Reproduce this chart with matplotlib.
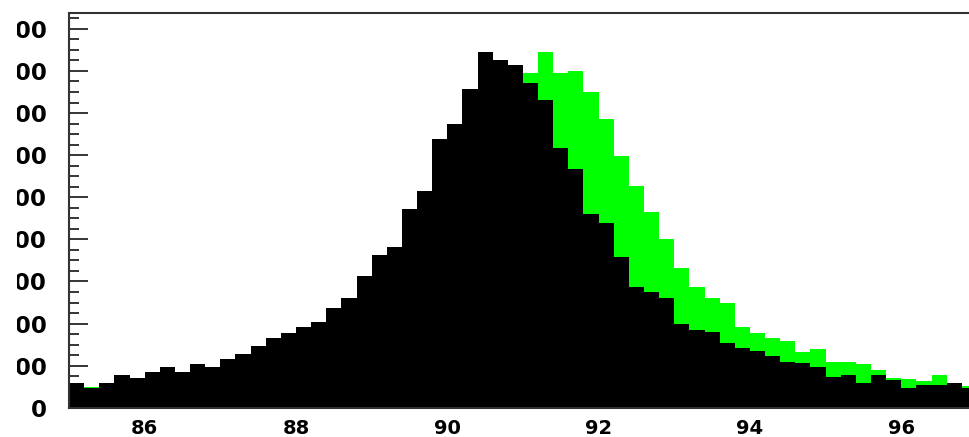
import matplotlib.pyplot as plt
from matplotlib.patches import Rectangle
from matplotlib.ticker import MultipleLocator

# bin left edges: 85.0 .. 96.8, width 0.2
bin_start = 85.0
bin_width = 0.2

black_counts = [119, 93, 119, 156, 143, 170, 192, 169, 208, 195,
                232, 257, 295, 332, 357, 384, 409, 474, 523, 626,
                726, 765, 943, 1030, 1276, 1347, 1513, 1689, 1652, 1629,
                1542, 1462, 1236, 1133, 919, 879, 715, 575, 549, 523,
                397, 371, 359, 309, 283, 270, 247, 219, 211, 195,
                145, 156, 119, 156, 132, 95, 108, 108, 119, 93]

green_counts = [119, 100, 119, 156, 143, 170, 192, 169, 208, 195,
                232, 257, 295, 332, 357, 384, 409, 474, 523, 626,
                726, 765, 943, 1030, 1276, 1347, 1513, 1689, 1652, 1629,
                1589, 1689, 1589, 1601, 1499, 1372, 1196, 1055, 929, 802,
                663, 572, 523, 496, 382, 357, 332, 319, 267, 279,
                216, 216, 207, 180, 143, 135, 129, 156, 119, 104]

xtick_vals = [86, 88, 90, 92, 94, 96]
ytick_vals = [0, 200, 400, 600, 800, 1000, 1200, 1400, 1600, 1800]

edges = [bin_start + i * bin_width for i in range(len(black_counts))]

fig = plt.figure(figsize=(9.69, 4.37), dpi=100)
ax = fig.add_axes([0.0712, 0.0668, 0.937, 0.9028])

ax.bar(edges, green_counts, width=bin_width, align='edge', color='#00ff00', linewidth=0)
ax.bar(edges, black_counts, width=bin_width, align='edge', color='black', linewidth=0)

ax.set_xlim(85, 97)
ax.set_ylim(0, 1874)

ax.set_xticks(xtick_vals)
ax.set_yticks(ytick_vals)
ax.yaxis.set_minor_locator(MultipleLocator(50))

ax.tick_params(axis='y', which='major', direction='in', length=13.5, width=1.1,
               pad=16, labelsize=16.5)
ax.tick_params(axis='y', which='minor', direction='in', length=7.5, width=1.1)
ax.tick_params(axis='x', which='major', direction='in', length=10, width=1.1,
               pad=8, labelsize=14)

for lab in ax.get_xticklabels() + ax.get_yticklabels():
    lab.set_fontweight('bold')

for side in ['top', 'left', 'bottom', 'right']:
    ax.spines[side].set_linewidth(1.5)
    ax.spines[side].set_color('#333333')

# the original canvas is cut a little left of the y labels
fig.patches.append(Rectangle((0, 0), 17 / 969, 1, transform=fig.transFigure,
                             facecolor='white', edgecolor='none', zorder=10))

fig.savefig('out.png', dpi=100)
